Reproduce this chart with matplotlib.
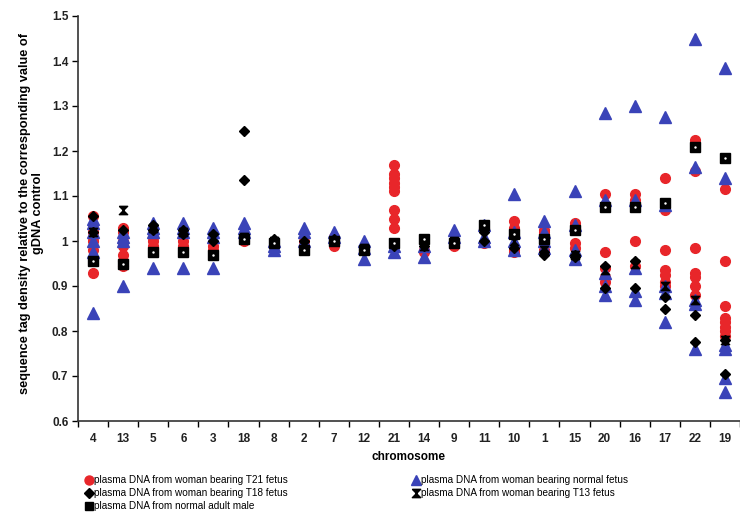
import numpy as np
import matplotlib
matplotlib.use("Agg")
import matplotlib.pyplot as plt
from matplotlib.lines import Line2D

plt.rcParams['font.family'] = ['Liberation Sans', 'DejaVu Sans']

# --- DATA (one list per chromosome) ---
chromosomes = ["4", "13", "5", "6", "3", "18", "8", "2", "7", "12", "21",
               "14", "9", "11", "10", "1", "15", "20", "16", "17", "22", "19"]

t21_vals = [
    [1.055, 1.03, 1.02, 1.01, 1.0, 0.98, 0.93],
    [1.03, 1.02, 1.0, 0.99, 0.97, 0.955, 0.945],
    [1.01, 1.0, 0.99],
    [1.0, 0.99],
    [0.99, 0.98],
    [1.01, 1.0],
    [0.99],
    [1.0, 0.99],
    [1.01, 0.99],
    [0.98],
    [1.17, 1.15, 1.14, 1.13, 1.12, 1.11, 1.07, 1.05, 1.03],
    [0.98, 0.975],
    [0.99],
    [1.03, 0.995],
    [1.045, 1.03, 0.98, 0.975],
    [1.025, 1.02, 0.98],
    [1.04, 1.03, 0.995, 0.985],
    [1.105, 1.08, 0.975, 0.94, 0.92, 0.91],
    [1.105, 1.09, 1.0, 0.945],
    [1.14, 1.07, 0.98, 0.935, 0.925, 0.91, 0.9],
    [1.225, 1.155, 0.985, 0.93, 0.92, 0.9, 0.88],
    [1.115, 0.955, 0.855, 0.83, 0.82, 0.81, 0.8, 0.79],
]

normal_vals = [
    [1.05, 1.04, 1.02, 1.0, 0.975, 0.84],
    [1.02, 1.01, 1.0, 0.9],
    [1.04, 1.03, 1.02, 0.94],
    [1.04, 1.03, 1.02, 0.94],
    [1.03, 1.02, 1.01, 0.94],
    [1.04, 1.03, 1.02],
    [1.0, 0.99, 0.98],
    [1.03, 1.02, 1.0],
    [1.02, 1.01],
    [1.0, 0.985, 0.96],
    [0.99, 0.975],
    [0.99, 0.965],
    [1.025, 1.01],
    [1.035, 1.01, 1.0],
    [1.105, 1.02, 1.0, 0.98],
    [1.045, 1.02, 1.0, 0.985],
    [1.11, 1.035, 0.98, 0.96],
    [1.285, 1.09, 0.93, 0.9, 0.88],
    [1.30, 1.09, 0.94, 0.89, 0.87],
    [1.275, 1.08, 0.9, 0.885, 0.82],
    [1.45, 1.165, 0.87, 0.86, 0.76],
    [1.385, 1.14, 0.77, 0.76, 0.695, 0.665],
]

t18_vals = [
    [1.055, 1.02], [1.025, 0.95], [1.035, 1.025], [1.025, 1.015],
    [1.015, 1.0], [1.245, 1.135], [1.005], [1.0], [1.005], [0.98],
    [0.99], [0.99], [0.995], [1.02, 1.0], [0.985], [0.975, 0.97],
    [0.97, 0.965], [0.945, 0.895], [0.955, 0.895], [0.875, 0.85],
    [0.835, 0.775], [0.78, 0.705],
]

t13_vals = [
    [1.02], [1.07], [1.03], [1.02], [1.01], [1.01], [1.0], [0.99], [1.0],
    [0.985], [0.995], [0.99], [1.0], [1.03], [1.0], [0.98], [0.97],
    [0.935], [0.95], [0.9], [0.87], [0.78],
]

male_vals = [
    0.955, 0.95, 0.975, 0.975, 0.97, 1.005, 0.995, 0.98, 1.0, 0.98, 0.995,
    1.005, 0.995, 1.035, 1.015, 1.005, 1.025, 1.075, 1.075, 1.085, 1.21, 1.185,
]

y_ticks = [0.6, 0.7, 0.8, 0.9, 1.0, 1.1, 1.2, 1.3, 1.4, 1.5]
y_ticklabels = ["0.6", "0.7", "0.8", "0.9", "1", "1.1", "1.2", "1.3", "1.4", "1.5"]

# hourglass marker for T13
hourglass = [(-1, 1), (1, 1), (-1, -1), (1, -1), (-1, 1)]

RED = "#e8262a"
BLUE = "#3a43b8"

fig = plt.figure(figsize=(7.4, 5.22), dpi=100)
ax = fig.add_axes([78 / 740, 1 - 421 / 522, 1 - 78 / 740, (421 - 16) / 522])

x = np.arange(len(chromosomes))


def spread(vals_list):
    xs, ys = [], []
    for i, vals in enumerate(vals_list):
        xs += [i] * len(vals)
        ys += list(vals)
    return xs, ys


xs, ys = spread(t21_vals)
ax.plot(xs, ys, "o", color=RED, ms=7, mec=RED, zorder=2)
xs, ys = spread(normal_vals)
ax.plot(xs, ys, "^", color=BLUE, ms=8, mec=BLUE, zorder=3)
xs, ys = spread(t18_vals)
ax.plot(xs, ys, "D", color="black", ms=5.5, zorder=4)
xs, ys = spread(t13_vals)
ax.plot(xs, ys, marker=hourglass, ls="none", color="black", ms=6, zorder=4)
ax.plot(x, male_vals, "s", color="black", ms=7, zorder=5)
ax.plot(x, male_vals, ".", color="white", ms=1.5, zorder=6)

# --- AXES ---
ax.set_xlim(-0.5, (740 - 93) / 30.19)
ax.set_ylim(0.6, 1.5)
ax.set_yticks(y_ticks)
ax.set_yticklabels(y_ticklabels, fontsize=8.5, fontweight="bold", color="#222222")
ax.set_xticks(x)
ax.set_xticklabels(chromosomes, fontsize=8.5, fontweight="bold", color="#222222")
ax.set_xticks(np.arange(-0.5, len(chromosomes), 1.0), minor=True)
ax.tick_params(axis="x", which="major", length=0, pad=9)
ax.tick_params(axis="x", which="minor", length=4, width=1, direction="out")
ax.tick_params(axis="y", length=4, width=1, direction="out", pad=3)
ax.spines["top"].set_visible(False)
ax.spines["right"].set_visible(False)
for s in ("left", "bottom"):
    ax.spines[s].set_linewidth(1.2)
    ax.spines[s].set_color("#333333")

ax.set_xlabel("chromosome", fontsize=8.5, fontweight="bold", labelpad=4)
fig.text(0.042, 1 - 213 / 522,
         "sequence tag density relative to the corresponding value of\ngDNA control",
         rotation=90, ha="center", va="center", fontsize=9.2, fontweight="bold",
         multialignment="center", linespacing=1.1)

# --- LEGEND ---
handles = [
    Line2D([], [], ls="none", marker="o", color=RED, ms=6.5),
    Line2D([], [], ls="none", marker="D", color="black", ms=5),
    Line2D([], [], ls="none", marker="s", color="black", ms=6),
    Line2D([], [], ls="none", marker="^", color=BLUE, ms=7.5),
    Line2D([], [], ls="none", marker=hourglass, color="black", ms=6),
]
labels = [
    "plasma DNA from woman bearing T21 fetus",
    "plasma DNA from woman bearing T18 fetus",
    "plasma DNA from normal adult male",
    "plasma DNA from woman bearing normal fetus",
    "plasma DNA from woman bearing T13 fetus",
]
fig.legend(handles, labels, ncol=2, loc="upper left",
           bbox_to_anchor=(82 / 740, 1 - 471 / 522), frameon=False,
           fontsize=7.2, handlelength=0.6, handletextpad=0.2,
           columnspacing=12.5, labelspacing=0.3, borderaxespad=0)

fig.savefig("out.png", dpi=100)
